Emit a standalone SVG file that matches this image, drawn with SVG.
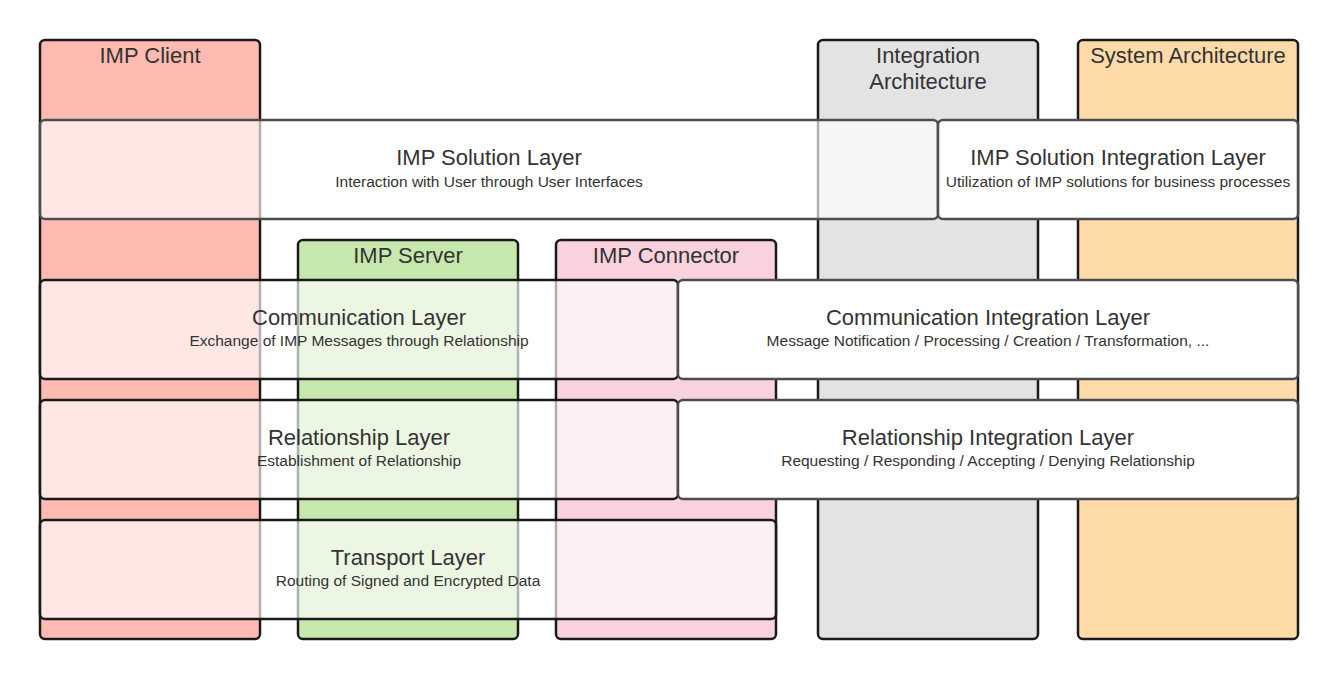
<svg xmlns="http://www.w3.org/2000/svg" width="1338" height="680" viewBox="0 0 1338 680">
<style>
.col{stroke:#1a1a1a;stroke-width:2.5}
.lay{fill:#ffffff;fill-opacity:0.66;stroke:#1a1a1a;stroke-width:2.5}
.int{fill:#ffffff;stroke:#4d4d4d;stroke-width:2.5}
.sol{fill:#ffffff;fill-opacity:0.66;stroke:#4d4d4d;stroke-width:2.5}
.t{font-family:"Liberation Sans",Arial,sans-serif;font-size:22px;fill:#333333;text-anchor:middle}
.s{font-family:"Liberation Sans",Arial,sans-serif;font-size:15.5px;fill:#333333;text-anchor:middle}
</style>
<rect width="1338" height="680" fill="#ffffff"/>
<g id="imp-client"><rect class="col" x="40" y="40" width="220" height="599" rx="5" fill="#ffbbb1"/><text class="t" x="150" y="63">IMP Client</text></g>
<g id="imp-server"><rect class="col" x="298" y="240" width="220" height="399" rx="5" fill="#c7e8ac"/><text class="t" x="408" y="263">IMP Server</text></g>
<g id="imp-connector"><rect class="col" x="556" y="240" width="220" height="399" rx="5" fill="#f9d2de"/><text class="t" x="666" y="263">IMP Connector</text></g>
<g id="integration-architecture"><rect class="col" x="818" y="40" width="220" height="599" rx="5" fill="#e3e3e3"/><text class="t" x="928" y="63">Integration</text><text class="t" x="928" y="89">Architecture</text></g>
<g id="system-architecture"><rect class="col" x="1078" y="40" width="220" height="599" rx="5" fill="#ffdba9"/><text class="t" x="1188" y="63">System Architecture</text></g>
<g id="imp-solution-layer"><rect class="sol" x="40" y="120" width="898" height="99" rx="5"/><text class="t" x="489" y="165">IMP Solution Layer</text><text class="s" x="489" y="187">Interaction with User through User Interfaces</text></g>
<g id="imp-solution-integration-layer"><rect class="int" x="938" y="120" width="360" height="99" rx="5"/><text class="t" x="1118" y="165">IMP Solution Integration Layer</text><text class="s" x="1118" y="187">Utilization of IMP solutions for business processes</text></g>
<g id="communication-layer"><rect class="lay" x="40" y="280" width="638" height="99" rx="5"/><text class="t" x="359" y="325">Communication Layer</text><text class="s" x="359" y="346">Exchange of IMP Messages through Relationship</text></g>
<g id="communication-integration-layer"><rect class="int" x="678" y="280" width="620" height="99" rx="5"/><text class="t" x="988" y="325">Communication Integration Layer</text><text class="s" x="988" y="346">Message Notification / Processing / Creation / Transformation, ...</text></g>
<g id="relationship-layer"><rect class="lay" x="40" y="400" width="638" height="99" rx="5"/><text class="t" x="359" y="445">Relationship Layer</text><text class="s" x="359" y="466">Establishment of Relationship</text></g>
<g id="relationship-integration-layer"><rect class="int" x="678" y="400" width="620" height="99" rx="5"/><text class="t" x="988" y="445">Relationship Integration Layer</text><text class="s" x="988" y="466">Requesting / Responding / Accepting / Denying Relationship</text></g>
<g id="transport-layer"><rect class="lay" x="40" y="520" width="736" height="99" rx="5"/><text class="t" x="408" y="565">Transport Layer</text><text class="s" x="408" y="586">Routing of Signed and Encrypted Data</text></g>
<g id="connectors"></g>
</svg>
